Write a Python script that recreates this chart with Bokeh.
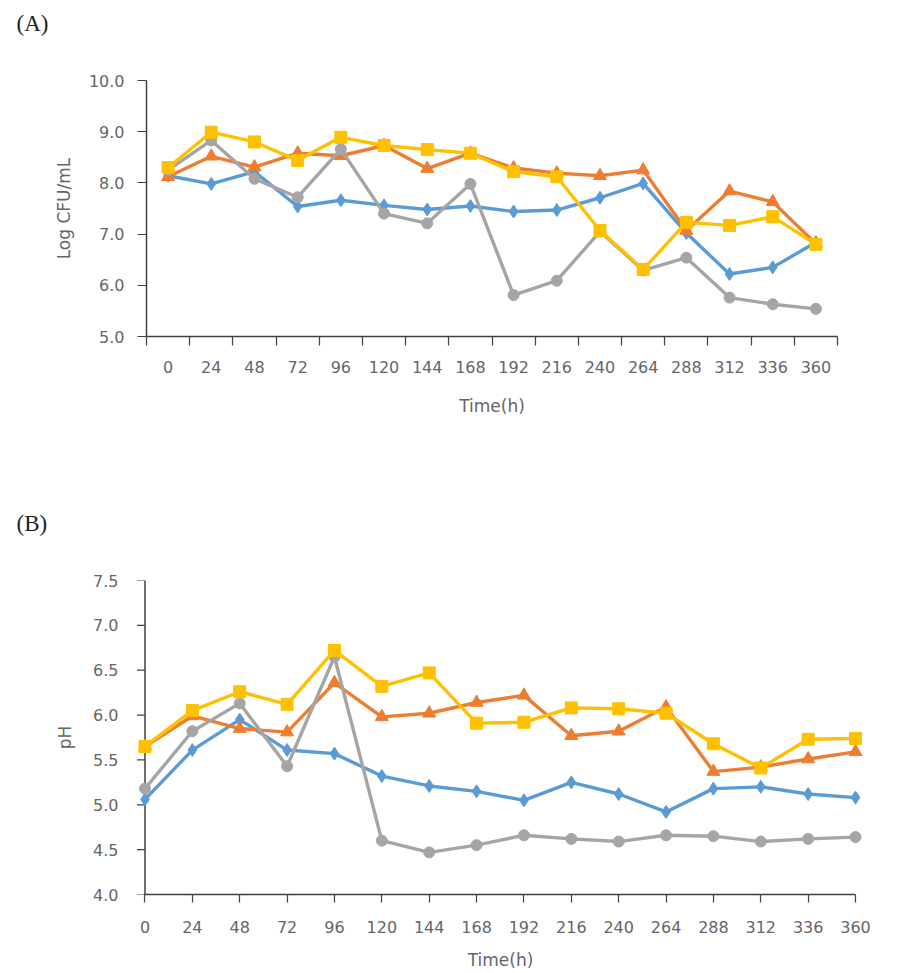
import math
from bokeh.plotting import figure
from bokeh.models import Range1d, FixedTicker, NumeralTickFormatter, Span, Title
from bokeh.layouts import column
from bokeh.embed import file_html
from bokeh.resources import INLINE

# ---------------- data ----------------
hours = [0, 24, 48, 72, 96, 120, 144, 168, 192, 216, 240, 264, 288, 312, 336, 360]

# (A) Log CFU/mL
blue_a = [8.14, 7.98, 8.22, 7.54, 7.66, 7.56, 7.48, 7.55, 7.44, 7.47, 7.71, 7.99, 7.02, 6.22, 6.35, 6.84]
orange_a = [8.12, 8.52, 8.31, 8.58, 8.53, 8.73, 8.28, 8.58, 8.29, 8.19, 8.14, 8.25, 7.07, 7.84, 7.63, 6.81]
gray_a = [8.25, 8.83, 8.08, 7.72, 8.66, 7.40, 7.21, 7.98, 5.81, 6.09, 7.05, 6.29, 6.54, 5.76, 5.63, 5.54]
yellow_a = [8.30, 8.99, 8.80, 8.44, 8.89, 8.73, 8.65, 8.58, 8.22, 8.12, 7.07, 6.31, 7.23, 7.17, 7.34, 6.80]

# (B) pH
blue_b = [5.06, 5.61, 5.95, 5.61, 5.57, 5.32, 5.21, 5.15, 5.05, 5.25, 5.12, 4.92, 5.18, 5.20, 5.12, 5.08]
orange_b = [5.65, 5.99, 5.85, 5.81, 6.36, 5.98, 6.02, 6.14, 6.22, 5.77, 5.82, 6.09, 5.37, 5.42, 5.51, 5.59]
gray_b = [5.18, 5.82, 6.13, 5.43, 6.65, 4.60, 4.47, 4.55, 4.66, 4.62, 4.59, 4.66, 4.65, 4.59, 4.62, 4.64]
yellow_b = [5.65, 6.05, 6.26, 6.12, 6.72, 6.32, 6.47, 5.91, 5.92, 6.08, 6.07, 6.02, 5.68, 5.41, 5.73, 5.74]

ya_ticks = [5.0, 6.0, 7.0, 8.0, 9.0, 10.0]
yb_ticks = [4.0, 4.5, 5.0, 5.5, 6.0, 6.5, 7.0, 7.5]

COLORS = {"blue": "#5B9BD5", "orange": "#ED7D31", "gray": "#A5A5A5", "yellow": "#FFC000"}
TICK_FONT = "DejaVu Sans"
TICK_COLOR = "#666666"
AXIS_COLOR = "#404040"


def style_axes(p):
    for ax in (p.xaxis[0], p.yaxis[0]):
        ax.axis_line_color = AXIS_COLOR
        ax.axis_line_width = 1.5
        ax.major_tick_line_color = AXIS_COLOR
        ax.major_tick_line_width = 1.2
        ax.minor_tick_line_color = None
        ax.major_tick_in = 0
        ax.major_label_text_font = TICK_FONT
        ax.major_label_text_font_size = "16px"
        ax.major_label_text_color = TICK_COLOR
        ax.axis_label_text_font = TICK_FONT
        ax.axis_label_text_font_size = "17px"
        ax.axis_label_text_font_style = "normal"
        ax.axis_label_text_color = TICK_COLOR
    p.xgrid.visible = False
    p.ygrid.visible = False
    p.outline_line_color = None


def add_series(p, x, blue, orange, gray, yellow):
    series = [
        (blue, "blue", "diamond", 13),
        (orange, "orange", "triangle", 13),
        (gray, "gray", "circle", 11),
        (yellow, "yellow", "square", 12),
    ]
    for ys, c, m, s in series:
        col = COLORS[c]
        p.line(x, ys, line_color=col, line_width=3.4, line_join="round")
        p.scatter(x, ys, marker=m, size=s, fill_color=col, line_color=col)


def panel_title(text, offset, pad, standoff):
    return Title(text=text, align="left", offset=offset, standoff=standoff,
                 padding=dict(left=0, right=0, top=0, bottom=pad),
                 text_font="Liberation Serif", text_font_size="23px",
                 text_font_style="normal", text_color="#222222")


# ---------------- (A) ----------------
pa = figure(width=903, height=480, output_backend="svg", toolbar_location=None,
            x_range=Range1d(hours[0] - 12, hours[-1] + 12), y_range=Range1d(5.0, 10.0),
            min_border_left=146, min_border_right=66, min_border_top=80, min_border_bottom=144)
pa.frame_align = False
pa.title = panel_title("(A)", -130, 40, 10)
style_axes(pa)
add_series(pa, hours, blue_a, orange_a, gray_a, yellow_a)
bounds_a = [h - 12 for h in hours] + [hours[-1] + 12]
pa.xaxis[0].ticker = FixedTicker(ticks=hours, minor_ticks=bounds_a)
pa.xaxis[0].major_tick_out = 0
pa.xaxis[0].major_tick_line_color = None
pa.xaxis[0].minor_tick_line_color = AXIS_COLOR
pa.xaxis[0].minor_tick_line_width = 1.2
pa.xaxis[0].minor_tick_out = 9
pa.xaxis[0].minor_tick_in = 0
pa.xaxis[0].major_label_standoff = 15
pa.xaxis[0].axis_label = "Time(h)"
pa.xaxis[0].axis_label_standoff = 20
pa.yaxis[0].ticker = FixedTicker(ticks=ya_ticks)
pa.yaxis[0].formatter = NumeralTickFormatter(format="0.0")
pa.yaxis[0].major_tick_out = 9
pa.yaxis[0].major_label_standoff = 13
pa.yaxis[0].axis_label = "Log CFU/mL"
pa.yaxis[0].axis_label_standoff = 12

# ---------------- (B) ----------------
pb = figure(width=903, height=493, output_backend="svg", toolbar_location=None,
            x_range=Range1d(-7.85, 368.1), y_range=Range1d(4.0, 7.5),
            min_border_left=129, min_border_right=32, min_border_top=100, min_border_bottom=79)
pb.frame_align = False
pb.title = panel_title("(B)", -113, 40, 10)
style_axes(pb)
# y axis line and ticks sit at hour 0 inside the padded frame
pb.add_layout(Span(location=hours[0], dimension="height", line_color=AXIS_COLOR,
                   line_width=1.5, level="underlay"))
pb.ray(x=[hours[0]] * len(yb_ticks), y=yb_ticks, length=8, angle=math.pi,
       length_units="screen", line_color=AXIS_COLOR, line_width=1.2, level="underlay")
add_series(pb, hours, blue_b, orange_b, gray_b, yellow_b)
pb.xaxis[0].ticker = FixedTicker(ticks=hours)
pb.xaxis[0].bounds = (hours[0], hours[-1])
pb.xaxis[0].major_tick_out = 8
pb.xaxis[0].major_label_standoff = 18
pb.xaxis[0].axis_label = "Time(h)"
pb.xaxis[0].axis_label_standoff = 14
pb.yaxis[0].ticker = FixedTicker(ticks=yb_ticks)
pb.yaxis[0].formatter = NumeralTickFormatter(format="0.0")
pb.yaxis[0].axis_line_color = None
pb.yaxis[0].major_tick_line_color = None
pb.yaxis[0].major_tick_out = 0
pb.yaxis[0].major_label_standoff = 11
pb.yaxis[0].axis_label = "pH"
pb.yaxis[0].axis_label_standoff = 15

layout = column(pa, pb, spacing=0)
open("out.html", "w").write(file_html(layout, INLINE))
